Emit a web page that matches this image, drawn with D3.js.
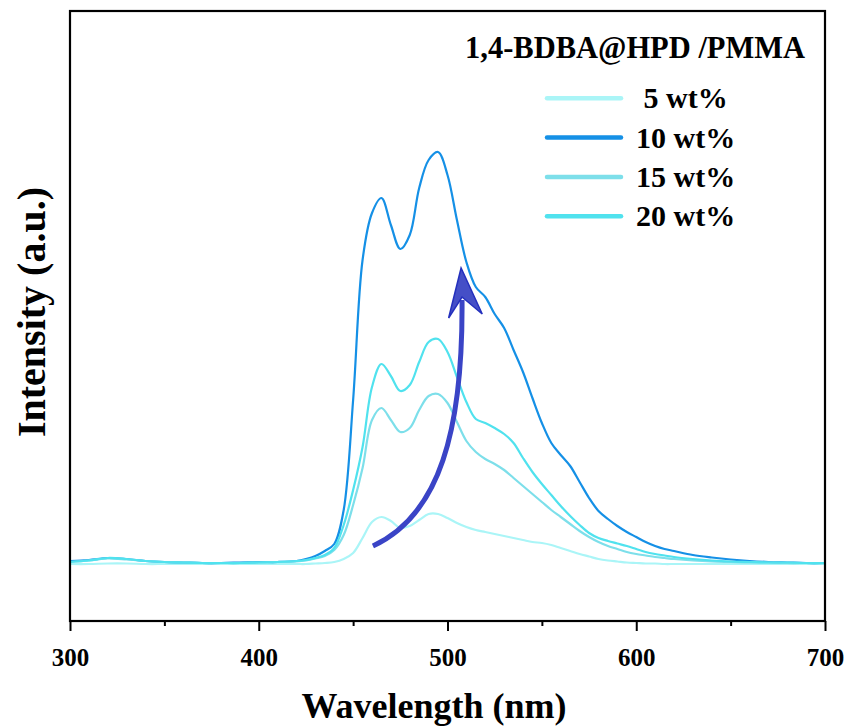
<!DOCTYPE html>
<html><head><meta charset="utf-8">
<script src="https://cdn.jsdelivr.net/npm/d3@7"></script>
<style>
html,body{margin:0;padding:0;background:#fff;}
svg text{font-family:"Liberation Serif","Times New Roman",serif;font-weight:bold;fill:#000;}
</style></head>
<body><svg id="chart" width="848" height="728"></svg>
<script>
// ---- data ----
const wavelengths = [300,310,320,330,340,350,360,370,380,390,400,410,
  420,425,430,435,440,445,450,455,460,465,470,475,480,485,490,495,500,505,510,515,520,525,530,535,540,545,550,555,560,565,570,575,580,585,590,595,600,605,610,615,620,
  630,640,650,660,670,680,690,700];
const wt5 = [1,1,1.5,1.5,1,1,1,1,1,1,1,1,
  1,1,1.5,2,3,6,12,27,43,48,44,37,39,45,51,51,47,42,38,35,33,31,29,27,25,23,22,20,17,14,11,8.5,6,4.5,3.5,2.5,2,1.5,1.5,1,1,
  1,1,1,1,1,1,1,1];
const wt10 = [4,5,7,6,4,3,2.5,2,2,2.5,3,3,
  4,6,9,14,21,55,165,305,352,367,340,316,330,377,405,413,390,345,303,278,268,251,237,215,193,167,142,122,110,99,83,67,54,46,39,33,28,23,19,16,14,
  10,7.5,5.5,4,3,2.5,2,2];
const wt15 = [3,4.5,6.5,5.5,4,3,2.5,2,2,2,2.5,3,
  3.5,4.5,6.5,9,15,30,60,97,145,157,145,133,137,155,169,171,162,143,124,113,106,101,95,87,79,71,63,55,48,41,34,28,23,19,16,13,11,9.5,8,7,6,
  4.5,3.5,3,2.5,2.5,2,2,2];
const wt20 = [3,4.5,7,6,4,3,2.5,2,2,2,2.5,3,
  4,5,7,10,17,40,75,118,178,201,189,174,180,203,223,226,213,188,163,146,142,137,131,122,107,93,81,70,59,49,40,32,27,24,21.5,19,16,13,11,9.5,8,
  6,4.5,3.5,3,2.5,2.5,2,2];
const seriesNames = [" 5 wt%","10 wt%","15 wt%","20 wt%"];
const seriesColors = ["#aaf5f7","#1590e6","#7ddfea","#50e2ee"];
const seriesValues = [wt5, wt10, wt15, wt20];
const majorTicks = [300,400,500,600,700];
const minorTicks = [350,450,550,650];
const legendTitle = "1,4-BDBA@HPD /PMMA";
const xTitle = "Wavelength (nm)";
const yTitle = "Intensity (a.u.)";
// arrow annotation in data units [wavelength, intensity]
const arrowCurve = [[460.5,19],[496,50],[508.2,135],[507.7,265]];
const arrowHead = [[507.2,297],[500.6,247],[507.7,268],[518.4,251]];

// ---- layout ----
const svg = d3.select("#chart");
const L = 70, R = 825, T = 11, B = 621;
const x = d3.scaleLinear().domain([300,700]).range([L,R]);
const y = d3.scaleLinear().domain([-56,554]).range([B,T]);

// curves
const line = d3.line().x((d,i)=>x(wavelengths[i])).y(d=>y(d)).curve(d3.curveCatmullRom.alpha(0.5));
const order = [0,1,2,3];
svg.append("g").selectAll("path").data(order).join("path")
  .attr("d", i=>line(seriesValues[i]))
  .attr("fill","none")
  .attr("stroke", i=>seriesColors[i])
  .attr("stroke-width",2.2)
  .attr("stroke-linejoin","round");

// arrow
const bez = d3.path();
bez.moveTo(x(arrowCurve[0][0]), y(arrowCurve[0][1]));
bez.bezierCurveTo(x(arrowCurve[1][0]), y(arrowCurve[1][1]), x(arrowCurve[2][0]), y(arrowCurve[2][1]), x(arrowCurve[3][0]), y(arrowCurve[3][1]));
svg.append("path").attr("d", bez.toString()).attr("fill","none")
  .attr("stroke","#3a44c6").attr("stroke-width",5);
svg.append("path")
  .attr("d", d3.line().x(d=>x(d[0])).y(d=>y(d[1]))(arrowHead) + "Z")
  .attr("fill","#2430bd").attr("fill-opacity",0.85)
  .attr("stroke","#2430bd").attr("stroke-width",1.5).attr("stroke-linejoin","miter");

// frame
svg.append("rect").attr("x",L).attr("y",T).attr("width",R-L).attr("height",B-T)
  .attr("fill","none").attr("stroke","#000").attr("stroke-width",2.2);

// axes
const ax = svg.append("g").attr("transform",`translate(0,${B})`)
  .call(d3.axisBottom(x).tickValues(majorTicks).tickSize(10).tickPadding(17).tickFormat(d3.format("d")));
ax.select(".domain").remove();
ax.selectAll(".tick line").attr("stroke","#000").attr("stroke-width",2);
ax.selectAll(".tick text").style("font-size","25px");
const axm = svg.append("g").attr("transform",`translate(0,${B})`)
  .call(d3.axisBottom(x).tickValues(minorTicks).tickSize(5).tickFormat(""));
axm.select(".domain").remove();
axm.selectAll(".tick line").attr("stroke","#000").attr("stroke-width",2);

// axis titles
svg.append("text").attr("x",434).attr("y",718).attr("text-anchor","middle")
  .style("font-size","36px").text(xTitle);
svg.append("text").attr("transform","translate(45,312) rotate(-90)").attr("text-anchor","middle")
  .style("font-size","40px").text(yTitle);

// legend
svg.append("text").attr("x",465).attr("y",58).style("font-size","30.5px").text(legendTitle);
const lg = svg.append("g").selectAll("g").data(order).join("g")
  .attr("transform", i=>`translate(0,${98.3 + i*39.3})`);
lg.append("line").attr("x1",547).attr("x2",621).attr("y1",0).attr("y2",0)
  .attr("stroke", i=>seriesColors[i]).attr("stroke-width",4.5).attr("stroke-linecap","round");
lg.append("text").attr("x",636).attr("y",10).style("font-size","30px")
  .style("white-space","pre").attr("xml:space","preserve").text(i=>seriesNames[i]);
</script></body></html>
